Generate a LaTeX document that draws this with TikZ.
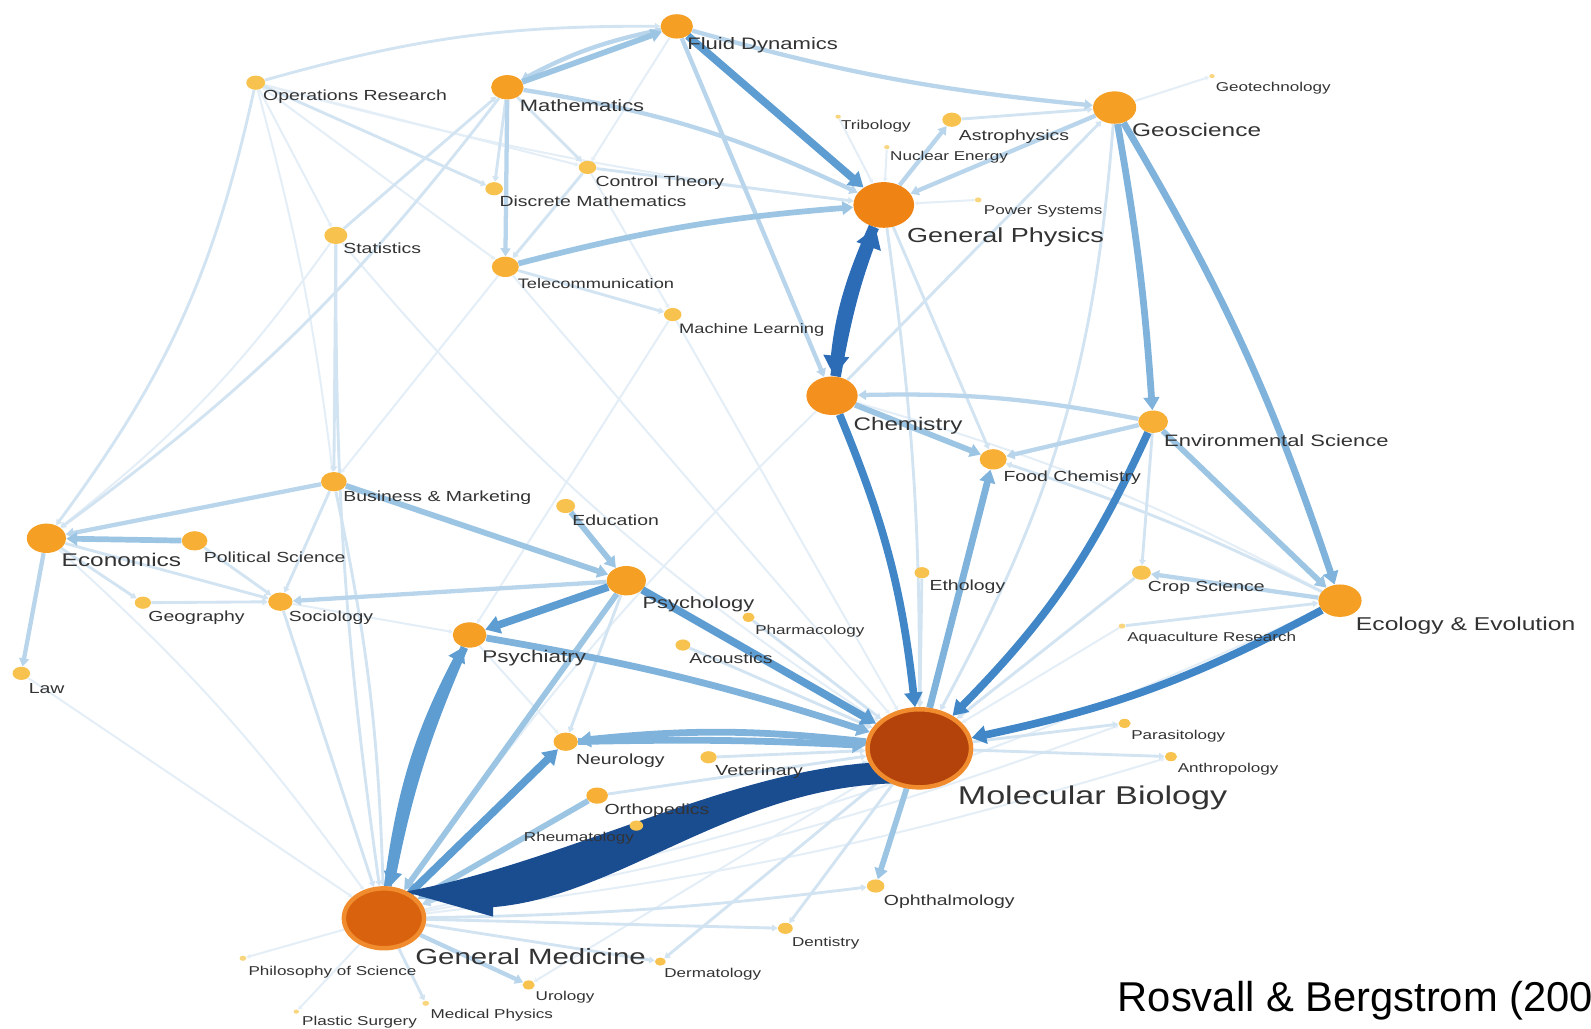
\documentclass[tikz,border=0pt]{standalone}
\usepackage{fontspec}
\setmainfont{Liberation Sans}
\usepackage{graphicx}
\usetikzlibrary{shapes.geometric,arrows.meta}
\pgfdeclarelayer{bg}
\pgfsetlayers{bg,main}
\definecolor{cA}{HTML}{E4EEF7}
\definecolor{cB}{HTML}{D2E4F2}
\definecolor{cC}{HTML}{B8D5EC}
\definecolor{cD}{HTML}{9CC5E4}
\definecolor{cE}{HTML}{80B3DC}
\definecolor{cF}{HTML}{5E9DD2}
\definecolor{cG}{HTML}{4187C7}
\definecolor{cH}{HTML}{2C6CB6}
\definecolor{cNavy}{HTML}{1A4C90}
\definecolor{nTiny}{HTML}{F9D57E}
\definecolor{nSmall}{HTML}{F8C24E}
\definecolor{nMed}{HTML}{F7B035}
\definecolor{nLarge}{HTML}{F5A024}
\definecolor{nChem}{HTML}{F3901E}
\definecolor{nGP}{HTML}{EF8415}
\definecolor{nMB}{HTML}{B4430B}
\definecolor{nGM}{HTML}{D9620F}
\definecolor{nRim}{HTML}{F08B2E}
\definecolor{txt}{HTML}{333333}
\newcommand\nd[5]{\node[ellipse,inner sep=0pt,fill=#5,minimum height=#4*0.04cm,minimum width=#4*0.0532cm] (#1) at (#2,#3) {};}
\newcommand\lb[5]{\node[lbl,font=\fontsize{#4pt}{#4pt}\selectfont] (#1) at (#2,{#3+0.631*#4}) {\scalebox{1.33}[1]{#5}};}
\tikzset{
 ar/.style={-{Triangle[length=0pt 1.9,width=0pt 2.3]}},
 ea/.style={ar,line width=1.1pt,draw=cA},
 eb/.style={ar,line width=1.6pt,draw=cB},
 ec/.style={ar,line width=2.4pt,draw=cC},
 ed/.style={ar,line width=3.2pt,draw=cD},
 ee/.style={ar,line width=3.8pt,draw=cE},
 ef/.style={ar,line width=4.3pt,draw=cF},
 eg/.style={ar,line width=4.3pt,draw=cG},
 eh/.style={ar,line width=6pt,draw=cH},
 lbl/.style={inner sep=0pt,anchor=base west,text=txt},
}
\begin{document}
\begin{tikzpicture}[x=0.02cm,y=-0.02cm]
\useasboundingbox (0,0) rectangle (1568,1014);
\clip (0,0) rectangle (1568,1014);
% nodes
\nd{FD}{667}{26}{12}{nLarge}
\nd{OR}{252}{81.5}{7}{nSmall}
\nd{Math}{500}{86}{12}{nLarge}
\nd{CT}{579}{165}{6.5}{nSmall}
\nd{DM}{487}{186}{6.5}{nSmall}
\nd{Stat}{331}{232}{8.5}{nSmall}
\nd{Tel}{498}{263}{10}{nMed}
\nd{ML}{663}{310}{6.5}{nSmall}
\nd{Trib}{826}{115}{2}{nTiny}
\nd{Astro}{938}{118}{7}{nSmall}
\nd{NucE}{874}{145}{2}{nTiny}
\nd{PowS}{964}{197}{2.5}{nTiny}
\nd{GP}{871}{202}{22.5}{nGP}
\nd{Geo}{1098.5}{106}{16}{nLarge}
\nd{Geot}{1194.5}{75}{2}{nTiny}
\nd{Chem}{820}{390}{19}{nChem}
\nd{Env}{1136.5}{415.6}{11}{nMed}
\nd{FC}{978.8}{452.7}{10}{nMed}
\nd{Econ}{45.7}{530.5}{14.5}{nLarge}
\nd{PolS}{191.8}{533}{9.5}{nMed}
\nd{BM}{329}{474.7}{9.5}{nMed}
\nd{Edu}{557.5}{498.7}{7}{nSmall}
\nd{Geog}{140.8}{594}{6}{nSmall}
\nd{Soc}{276.3}{593}{9}{nMed}
\nd{Law}{21}{663.6}{6.5}{nSmall}
\nd{Psy}{617.3}{572.3}{14.5}{nLarge}
\nd{Psyc}{462.8}{625.8}{12.5}{nLarge}
\nd{Phar}{737.7}{608.4}{4.5}{nSmall}
\nd{Acou}{673}{635.7}{5.5}{nSmall}
\nd{Etho}{908.6}{564.4}{5.5}{nSmall}
\nd{Crop}{1124.9}{564.4}{7}{nSmall}
\nd{Aqua}{1105.8}{617}{2.5}{nTiny}
\nd{EE}{1320.6}{592}{16}{nLarge}
\nd{Neur}{557.5}{731}{9}{nMed}
\nd{Vet}{698.3}{746.3}{6}{nSmall}
\nd{Orth}{588.5}{784.1}{8}{nMed}
\nd{Rheu}{627.2}{813.7}{5}{nSmall}
\nd{Para}{1108.3}{712.9}{4.5}{nSmall}
\nd{Anth}{1154}{745.7}{4.5}{nSmall}
\nd{Oph}{863}{873.2}{6.5}{nSmall}
\nd{Dent}{774}{914.9}{5.5}{nSmall}
\nd{Derm}{650.8}{947.7}{4}{nSmall}
\nd{Phil}{239.4}{944.4}{2.5}{nTiny}
\nd{Plas}{292}{997}{2}{nTiny}
\nd{MedP}{419.6}{988.8}{2.5}{nTiny}
\nd{Uro}{521}{970.7}{4.5}{nSmall}
\node[ellipse,inner sep=0pt,fill=nMB,draw=nRim,line width=2.5pt,minimum height=77*0.02cm,minimum width=102*0.02cm] (MB) at (906,737.5) {};
\node[ellipse,inner sep=0pt,fill=nGM,draw=nRim,line width=2.5pt,minimum height=59*0.02cm,minimum width=79*0.02cm] (GM) at (378.4,905) {};
% edges
\begin{pgfonlayer}{bg}
\fill[white] (0,0) rectangle (1568,1014);
% faint
\draw[ea] (OR) -- (Stat);
\draw[ea] (OR) to[bend left=4] (BM);
\draw[ea] (OR) -- (Tel);
\draw[ea] (OR) -- (CT);
\draw[ea] (Stat) to[bend left=8] (Econ);
\draw[ea] (Stat) to[bend right=8] (MB);
\draw[ea] (OR) to[bend right=4] (GP);
\draw[ea] (CT) -- (ML);
\draw[ea] (FD) -- (CT);
\draw[ea] (Tel) -- (BM);
\draw[ea] (Tel) -- (MB);
\draw[ea] (ML) -- (MB);
\draw[ea] (Law) -- (GM);
\draw[ea] (Econ) to[bend left=6] (GM);
\draw[ea] (Soc) -- (Psyc);
\draw[ea] (Aqua) -- (MB);
\draw[ea] (GM) -- (Plas);
\draw[ea] (GM) -- (Phil);
\draw[ea] (GM) to[bend right=5] (Para);
\draw[ea] (GM) to[bend right=5] (Anth);
\draw[ea] (GM) to[bend right=6] (EE);
\draw[ea] (MB) -- (Uro);
\draw[ea] (Trib) -- (GP);
\draw[ea] (NucE) -- (GP);
\draw[ea] (PowS) -- (GP);
\draw[ea] (Geo) -- (Geot);
\draw[ea] (EE) to[bend right=6] (Chem);
\draw[ea] (Chem) to[bend right=5] (GM);
\draw[ea] (Psyc) -- (Neur);
\draw[ea] (ML) -- (Psyc);
% light
\draw[eb] (OR) to[bend left=8] (FD);
\draw[eb] (OR) to[bend left=12] (Econ);
\draw[eb] (OR) -- (DM);
\draw[eb] (Math) to[bend left=8] (Econ);
\draw[eb] (Stat) -- (Math);
\draw[eb] (Stat) -- (BM);
\draw[eb] (Stat) to[bend right=4] (GM);
\draw[eb] (Math) -- (DM);
\draw[eb] (Math) -- (CT);
\draw[eb] (CT) -- (GP);
\draw[eb] (CT) -- (Tel);
\draw[eb] (Tel) -- (ML);
\draw[eb] (Astro) -- (Geo);
\draw[eb] (Chem) -- (Geo);
\draw[eb] (GP) to[bend left=4] (MB);
\draw[eb] (GP) -- (FC);
\draw[eb] (Geo) to[bend left=12] (MB);
\draw[eb] (Env) -- (Crop);
\draw[eb] (Crop) -- (MB);
\draw[eb] (Aqua) -- (EE);
\draw[eb] (EE) to[bend right=4] (FC);
\draw[eb] (PolS) -- (Soc);
\draw[eb] (Econ) -- (Soc);
\draw[eb] (Econ) -- (Geog);
\draw[eb] (Geog) -- (Soc);
\draw[eb] (BM) -- (Soc);
\draw[eb] (Soc) -- (GM);
\draw[eb] (BM) to[bend left=5] (GM);
\draw[eb] (Acou) -- (MB);
\draw[eb] (Phar) -- (MB);
\draw[eb] (Etho) -- (MB);
\draw[eb] (Vet) -- (MB);
\draw[eb] (Rheu) -- (MB);
\draw[eb] (Orth) -- (MB);
\draw[eb] (GM) to[bend right=3] (Oph);
\draw[eb] (GM) -- (Dent);
\draw[eb] (GM) -- (Derm);
\draw[eb] (MB) -- (Dent);
\draw[eb] (MB) -- (Derm);
\draw[eb] (MB) -- (Para);
\draw[eb] (MB) -- (Anth);
\draw[eb] (GM) -- (MedP);
\draw[eb] (Psy) -- (Neur);
% light-medium
\draw[ec] (FD) to[bend right=5] (Geo);
\draw[ec] (FD) -- (Chem);
\draw[ec] (Geo) -- (GP);
\draw[ec] (GP) -- (Astro);
\draw[ec] (Math) to[bend left=8] (GP);
\draw[ec] (FD) to[bend right=8] (Math);
\draw[ec] (Math) -- (Tel);
\draw[ec] (Env) to[bend right=6] (Chem);
\draw[ec] (Env) -- (FC);
\draw[ec] (EE) -- (Crop);
\draw[ec] (BM) -- (Econ);
\draw[ec] (Psy) -- (Soc);
\draw[ec] (Econ) -- (Law);
\draw[ec] (Rheu) -- (GM);
\draw[ec] (GM) -- (Uro);
% medium
\draw[ed] (Math) -- (FD);
\draw[ed] (Tel) to[bend left=5] (GP);
\draw[ed] (Chem) -- (FC);
\draw[ed] (Env) -- (EE);
\draw[ed] (PolS) -- (Econ);
\draw[ed] (BM) -- (Psy);
\draw[ed] (Edu) -- (Psy);
\draw[ed] (Psy) -- (GM);
\draw[ed] (Orth) -- (GM);
\draw[ed] (MB) -- (Oph);
% medium-blue
\draw[ee] (Geo) to[bend left=3] (Env);
\draw[ee] (Geo) to[bend left=6] (EE);
\draw[ee] (MB) -- (FC);
\draw[ee] (Psyc) to[bend left=4] (MB);
\draw[ee] (MB) to[bend right=6] (Neur);
\draw[ee] (Neur) to[bend left=2] (MB);
% blue
\draw[ef] (FD) -- (GP);
\draw[ef] (Psy) -- (Psyc);
\draw[ef] (Psy) -- (MB);
\draw[ef] (GM) -- (Neur);
\draw[ef] (Psyc) to[bend right=6] (GM);
\draw[ef] (GM) to[bend left=10] (Psyc);
\draw[eg] (Chem) to[bend left=8] (MB);
\draw[eg] (Env) to[bend left=10] (MB);
\draw[eg] (EE) to[bend left=8] (MB);
% dark pair General Physics <-> Chemistry
\draw[eh] (GP) to[bend right=9] (Chem);
\draw[eh] (Chem) to[bend left=5] (GP);
% navy tapered arrow Molecular Biology -> General Medicine
\fill[cNavy] ([shift={(-26,13.5)}]MB.center) .. controls (730,752) and (560,850) .. ([shift={(20.6,-26.2)}]GM.center)
  -- ([shift={(107.6,-1.6)}]GM.center) -- ([shift={(107.6,-11)}]GM.center)
  .. controls (610,884) and (720,776) .. ([shift={(-24,34.5)}]MB.center) -- cycle;
\end{pgfonlayer}
% labels
\lb{lFD}{677}{42.7}{9.3}{Fluid Dynamics}
\lb{lOR}{259}{93.6}{8.2}{Operations Research}
\lb{lMath}{512}{104.5}{9.25}{Mathematics}
\lb{lCT}{586.6}{178.4}{8.2}{Control Theory}
\lb{lDM}{492}{198}{8.2}{Discrete Mathematics}
\lb{lStat}{338}{245}{8.2}{Statistics}
\lb{lTel}{510}{279}{7.7}{Telecommunication}
\lb{lML}{669}{323.6}{7.7}{Machine Learning}
\lb{lTrib}{828.5}{123}{7.2}{Tribology}
\lb{lAstro}{944.7}{133}{8.2}{Astrophysics}
\lb{lNucE}{877}{153.7}{7.2}{Nuclear Energy}
\lb{lPowS}{969.3}{207}{7.2}{Power Systems}
\lb{lGP}{893.7}{231.6}{11.4}{General Physics}
\lb{lGeo}{1115.4}{128}{10.3}{Geoscience}
\lb{lGeot}{1198}{86}{7.2}{Geotechnology}
\lb{lChem}{840.9}{418.2}{10.2}{Chemistry}
\lb{lEnv}{1147}{434.6}{9.25}{Environmental Science}
\lb{lFC}{988.7}{469.8}{8.2}{Food Chemistry}
\lb{lEcon}{60.5}{552}{10.3}{Economics}
\lb{lPolS}{200.6}{549.6}{8.2}{Political Science}
\lb{lBM}{338}{489.5}{8.2}{Business \& Marketing}
\lb{lEdu}{563.8}{512.5}{8.2}{Education}
\lb{lGeog}{146}{607}{8.2}{Geography}
\lb{lSoc}{284.4}{607.7}{8.2}{Sociology}
\lb{lLaw}{28}{678}{8.2}{Law}
\lb{lPsy}{633}{593.6}{9.2}{Psychology}
\lb{lPsyc}{475}{646.5}{9.5}{Psychiatry}
\lb{lPhar}{744}{620.9}{7.2}{Pharmacology}
\lb{lAcou}{679}{648.8}{8.2}{Acoustics}
\lb{lEtho}{915.8}{577.2}{8.2}{Ethology}
\lb{lCrop}{1131}{577.5}{8.2}{Crop Science}
\lb{lAqua}{1110.6}{627.5}{7.2}{Aquaculture Research}
\lb{lEE}{1336}{615}{10.4}{Ecology \& Evolution}
\lb{lMB}{943.6}{783.5}{14.4}{Molecular Biology}
\lb{lNeur}{567.4}{748.3}{8.2}{Neurology}
\lb{lVet}{704.7}{758.8}{8.2}{Veterinary}
\lb{lOrth}{595.5}{797.6}{8.2}{Orthopedics}
\lb{lRheu}{516}{824.5}{7.2}{Rheumatology}
\lb{lPara}{1114.6}{724.4}{7.2}{Parasitology}
\lb{lAnth}{1160.4}{757.2}{7.2}{Anthropology}
\lb{lOph}{870.8}{887}{8.2}{Ophthalmology}
\lb{lDent}{780.3}{928}{7.2}{Dentistry}
\lb{lDerm}{654.4}{959.2}{7.2}{Dermatology}
\lb{lGM}{409}{942.8}{12.4}{General Medicine}
\lb{lPhil}{244.6}{956.6}{7.2}{Philosophy of Science}
\lb{lPlas}{297.4}{1005.9}{7.2}{Plastic Surgery}
\lb{lMedP}{424}{999.6}{7.2}{Medical Physics}
\lb{lUro}{527.6}{981.6}{7.2}{Urology}
\node[inner sep=0pt,anchor=base west,text=black,font=\fontsize{23.4pt}{23.4pt}\selectfont] (cite) at (1101.3,997) {Rosvall \& Bergstrom (200};
\end{tikzpicture}
\end{document}
